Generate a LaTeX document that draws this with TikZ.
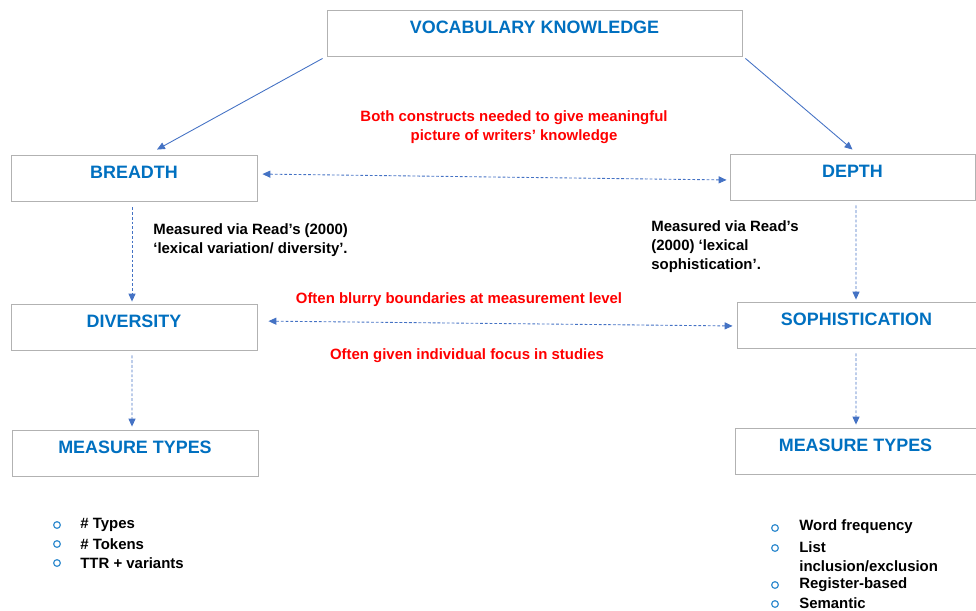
\documentclass[tikz,border=0pt]{standalone}
\usepackage{fontspec}
\setmainfont{Liberation Sans}
\usetikzlibrary{positioning,arrows.meta,shadows}
\definecolor{titleblue}{RGB}{0,112,192}
\definecolor{linkblue}{RGB}{68,114,196}
\definecolor{notered}{RGB}{255,0,0}
\tikzset{
  box/.style={draw=gray!60, fill=white, line width=0.5pt, minimum width=4.92cm,
    inner xsep=0pt, inner ysep=0pt, text height=0.47cm, text depth=0.45cm,
    font=\bfseries\fontsize{10.2}{12}\selectfont, text=titleblue,
    drop shadow={shadow xshift=0.8pt, shadow yshift=-0.8pt, opacity=0.45, fill=gray}},
  note/.style={font=\bfseries\fontsize{8.5}{10.8}\selectfont, inner sep=0pt},
  rednote/.style={note, text=notered, align=center},
  bul/.style={circle, draw=linkblue!80!cyan, line width=0.7pt, inner sep=0pt, minimum size=3.8pt},
  link/.style={draw=linkblue, line width=0.5pt, -{Triangle[length=4.5pt,width=4pt]}},
  dlink/.style={link, dash pattern=on 1.6pt off 1.1pt},
  ddlink/.style={dlink, {Triangle[length=4.5pt,width=4pt]}-{Triangle[length=4.5pt,width=4pt]}},
}
\begin{document}
\begin{tikzpicture}
  \useasboundingbox (0,0) rectangle (19.52,-12.2);
  % boxes
  \node[box, minimum width=8.3cm] (vk) at (10.69,-0.66) {VOCABULARY KNOWLEDGE};
  \node[box] (breadth) at (2.68,-3.56) {BREADTH};
  \node[box, minimum width=4.9cm] (depth) at (17.05,-3.54) {DEPTH};
  \node[box] (diversity) at (2.68,-6.54) {DIVERSITY};
  \node[box, minimum width=4.78cm] (soph) at (17.13,-6.5) {SOPHISTICATION};
  \node[box] (mtleft) at (2.7,-9.06) {MEASURE TYPES};
  \node[box, minimum width=4.82cm] (mtright) at (17.11,-9.02) {MEASURE TYPES};
  % notes
  \node[rednote] (both) at (10.28,-2.54) {Both constructs needed to give meaningful\\picture of writers’ knowledge};
  \node[note, anchor=west, align=left] (readl) at (3.06,-4.81) {Measured via Read’s (2000)\\‘lexical variation/ diversity’.};
  \node[note, anchor=west, align=left] (readr) at (13.02,-4.94) {Measured via Read’s\\(2000) ‘lexical\\sophistication’.};
  \node[rednote] (blurry) at (9.18,-6.0) {Often blurry boundaries at measurement level};
  \node[rednote] (focus) at (9.34,-7.12) {Often given individual focus in studies};
  % connectors
  \draw[link] ([xshift=-0.08cm,yshift=-0.04cm]vk.south west) -- ([xshift=0.46cm,yshift=0.1cm]breadth.north);
  \draw[link] ([xshift=0.06cm,yshift=-0.04cm]vk.south east) -- ([yshift=0.08cm]depth.north);
  \draw[ddlink, shorten <=0.1cm, shorten >=0.06cm] ([yshift=0.08cm]breadth.east) -- ([yshift=-0.06cm]depth.west);
  \draw[ddlink, shorten <=0.22cm, shorten >=0.08cm] ([yshift=0.12cm]diversity.east) -- ([yshift=-0.02cm]soph.west);
  \draw[dlink, shorten <=0.12cm, shorten >=0.04cm] ([xshift=-0.04cm]breadth.south) -- ([xshift=-0.04cm]diversity.north);
  \draw[dlink, shorten <=0.1cm, shorten >=0.04cm] ([xshift=0.07cm]depth.south) -- ([xshift=-0.01cm]soph.north);
  \draw[dlink, shorten <=0.1cm, shorten >=0.06cm] ([xshift=-0.04cm]diversity.south) -- ([xshift=-0.06cm]mtleft.north);
  \draw[dlink, shorten <=0.1cm, shorten >=0.06cm] ([xshift=-0.01cm]soph.south) -- ([xshift=0.01cm]mtright.north);
  % measure lists
  \foreach \y/\t [count=\i] in {10.5/\# Types, 10.88/\# Tokens, 11.26/TTR + variants}{
    \node[bul] (lb\i) at (1.14,-\y) {};
    \node[note, anchor=west] (lt\i) at (1.6,-\y) {\t};
  }
  \node[bul] (rb1) at (15.5,-10.56) {};
  \node[note, anchor=west] (rt1) at (15.98,-10.54) {Word frequency};
  \node[bul] (rb2) at (15.5,-10.96) {};
  \node[note, anchor=west, align=left] (rt2) at (15.98,-11.13) {List\\inclusion/exclusion};
  \node[bul] (rb3) at (15.5,-11.7) {};
  \node[note, anchor=west] (rt3) at (15.98,-11.7) {Register-based};
  \node[bul] (rb4) at (15.5,-12.08) {};
  \node[note, anchor=west] (rt4) at (15.98,-12.07) {Semantic};
\end{tikzpicture}
\end{document}
